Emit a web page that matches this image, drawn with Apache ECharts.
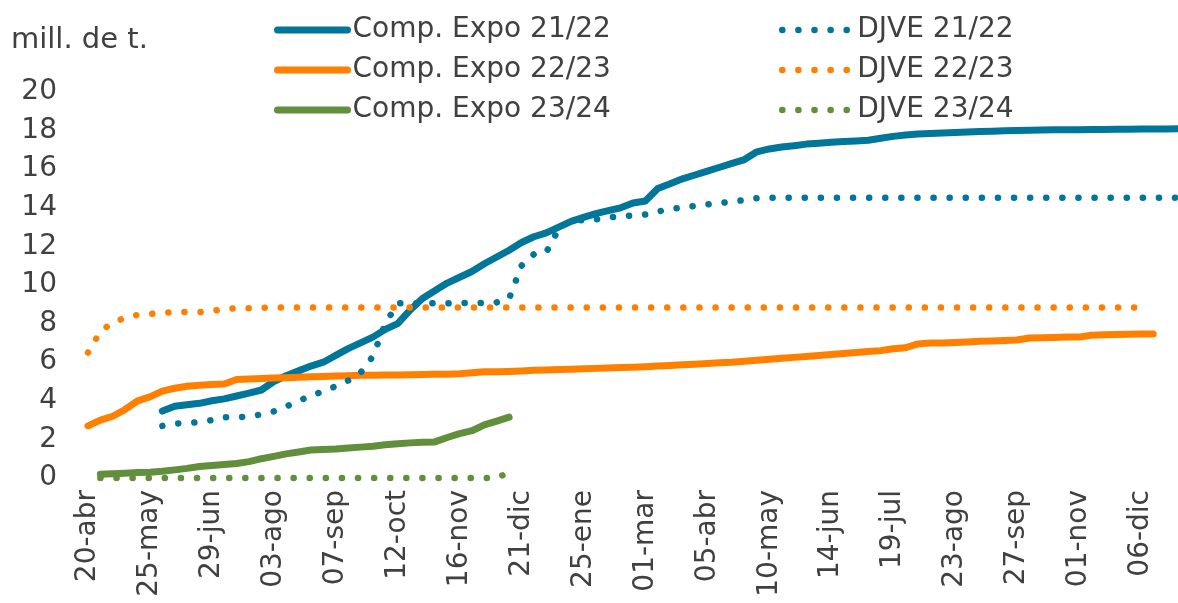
<!DOCTYPE html>
<html>
<head>
<meta charset="utf-8">
<script src="https://cdn.jsdelivr.net/npm/echarts@6/dist/echarts.min.js"></script>
<style>
  html, body { margin: 0; padding: 0; background: #fff; }
  #chart { width: 1178px; height: 603px; }
</style>
</head>
<body>
<div id="chart"></div>
<script>
// semanas (categorías del eje x)
const weeks = [
  '20-abr', '27-abr', '04-may', '11-may', '18-may', '25-may', '01-jun', '08-jun', '15-jun', '22-jun',
  '29-jun', '06-jul', '13-jul', '20-jul', '27-jul', '03-ago', '10-ago', '17-ago', '24-ago', '31-ago',
  '07-sep', '14-sep', '21-sep', '28-sep', '05-oct', '12-oct', '19-oct', '26-oct', '02-nov', '09-nov',
  '16-nov', '23-nov', '30-nov', '07-dic', '14-dic', '21-dic', '28-dic', '04-ene', '11-ene', '18-ene',
  '25-ene', '01-feb', '08-feb', '15-feb', '22-feb', '01-mar', '08-mar', '15-mar', '22-mar', '29-mar',
  '05-abr', '12-abr', '19-abr', '26-abr', '03-may', '10-may', '17-may', '24-may', '31-may', '07-jun',
  '14-jun', '21-jun', '28-jun', '05-jul', '12-jul', '19-jul', '26-jul', '02-ago', '09-ago', '16-ago',
  '23-ago', '30-ago', '06-sep', '13-sep', '20-sep', '27-sep', '04-oct', '11-oct', '18-oct', '25-oct',
  '01-nov', '08-nov', '15-nov', '22-nov', '29-nov', '06-dic', '13-dic', '20-dic', '27-dic'
]

// Compromisos de exportación 21/22
const expo2122 = [
  null, null, null, null, null, null, 3.47, 3.72, 3.8, 3.87,
  4.0, 4.1, 4.25, 4.4, 4.56, 5.0, 5.3, 5.55, 5.8, 6.0,
  6.35, 6.7, 7.0, 7.3, 7.7, 8.0, 8.7, 9.3, 9.7, 10.1,
  10.4, 10.7, 11.1, 11.45, 11.8, 12.2, 12.5, 12.7, 13.0, 13.3,
  13.5, 13.7, 13.85, 14.0, 14.25, 14.35, 15.0, 15.25, 15.5, 15.7,
  15.9, 16.1, 16.3, 16.5, 16.9, 17.05, 17.15, 17.22, 17.3, 17.35,
  17.4, 17.43, 17.46, 17.5, 17.6, 17.7, 17.77, 17.82, 17.85, 17.87,
  17.9, 17.93, 17.95, 17.97, 17.99, 18.0, 18.02, 18.03, 18.04, 18.05,
  18.05, 18.06, 18.06, 18.07, 18.07, 18.08, 18.08, 18.08, 18.09
]

// Compromisos de exportación 22/23
const expo2223 = [
  2.7, 3.0, 3.2, 3.55, 4.0, 4.2, 4.5, 4.65, 4.75, 4.8,
  4.85, 4.87, 5.1, 5.13, 5.15, 5.18, 5.2, 5.22, 5.24, 5.26,
  5.28, 5.3, 5.32, 5.33, 5.34, 5.34, 5.35, 5.36, 5.37, 5.38,
  5.4, 5.45, 5.5, 5.5, 5.52, 5.55, 5.58, 5.6, 5.62, 5.64,
  5.66, 5.68, 5.7, 5.72, 5.74, 5.77, 5.8, 5.83, 5.87, 5.9,
  5.93, 5.97, 6.0, 6.05, 6.1, 6.15, 6.2, 6.25, 6.3, 6.35,
  6.4, 6.45, 6.5, 6.55, 6.6, 6.7, 6.75, 6.95, 7.0, 7.0,
  7.02, 7.05, 7.08, 7.1, 7.12, 7.15, 7.25, 7.27, 7.28, 7.3,
  7.3, 7.4, 7.42, 7.44, 7.45, 7.46, 7.46, null, null
]

// Compromisos de exportación 23/24
const expo2324 = [
  null, 0.2, 0.22, 0.25, 0.28, 0.3, 0.35, 0.42, 0.5, 0.6,
  0.65, 0.7, 0.75, 0.85, 1.0, 1.12, 1.25, 1.35, 1.45, 1.48,
  1.5, 1.55, 1.6, 1.65, 1.72, 1.78, 1.82, 1.85, 1.87, 2.1,
  2.3, 2.45, 2.75, 2.95, 3.15
]

// DJVE 21/22
const djve2122 = [
  null, null, null, null, null, null, 2.7, 2.82, 2.85, 2.9,
  3.0, 3.15, 3.15, 3.18, 3.3, 3.45, 3.7, 4.0, 4.25, 4.5,
  4.75, 5.05, 5.45, 6.3, 8.0, 9.05, 9.05, 9.05, 9.05, 9.05,
  9.07, 9.07, 9.07, 9.1, 9.3, 11.0, 11.6, 11.7, 12.9, 13.35,
  13.35, 13.4, 13.5, 13.55, 13.6, 13.65, 13.8, 13.95, 14.0, 14.1,
  14.18, 14.25, 14.32, 14.4, 14.5, 14.52, 14.52, 14.52, 14.52, 14.52,
  14.52, 14.52, 14.52, 14.52, 14.52, 14.52, 14.52, 14.52, 14.52, 14.52,
  14.52, 14.52, 14.52, 14.52, 14.52, 14.52, 14.52, 14.52, 14.52, 14.52,
  14.52, 14.52, 14.52, 14.52, 14.52, 14.52, 14.52, 14.52, 14.52
]

// DJVE 22/23
const djve2223 = [
  6.5, 7.6, 8.05, 8.3, 8.45, 8.5, 8.55, 8.6, 8.6, 8.6,
  8.65, 8.75, 8.8, 8.8, 8.82, 8.84, 8.84, 8.84, 8.84, 8.84,
  8.84, 8.84, 8.84, 8.84, 8.84, 8.84, 8.84, 8.84, 8.84, 8.84,
  8.84, 8.84, 8.84, 8.84, 8.84, 8.84, 8.84, 8.84, 8.84, 8.84,
  8.84, 8.84, 8.84, 8.84, 8.84, 8.84, 8.84, 8.84, 8.84, 8.84,
  8.84, 8.84, 8.84, 8.84, 8.84, 8.84, 8.84, 8.84, 8.84, 8.84,
  8.84, 8.84, 8.84, 8.84, 8.84, 8.84, 8.84, 8.84, 8.84, 8.84,
  8.84, 8.84, 8.84, 8.84, 8.84, 8.84, 8.84, 8.84, 8.84, 8.84,
  8.84, 8.84, 8.84, 8.84, 8.84, 8.84
]

// DJVE 23/24
const djve2324 = [
  null, 0, 0, 0, 0, 0, 0, 0, 0, 0,
  0, 0, 0, 0, 0, 0, 0, 0, 0, 0,
  0, 0, 0, 0, 0, 0, 0, 0, 0, 0,
  0, 0, 0, 0, 0.3
]

const BLUE = '#00769a'
const ORANGE = '#ff8000'
const GREEN = '#628f3b'
const TEXT = '#404040'
const FONT = 'DejaVu Sans'
const DOTS = [0.1, 16]

function solid(name, data, color) {
  return {
    name, type: 'line', data, symbol: 'none', color, clip: false, z: 10,
    lineStyle: { width: 7, color, cap: 'round', join: 'round' }
  }
}

function dotted(name, data, color) {
  return {
    name, type: 'line', data, symbol: 'none', color, clip: false, z: 11,
    lineStyle: { width: 6.5, color, type: DOTS, cap: 'round' }
  }
}

const legendBase = {
  orient: 'vertical', top: 16, padding: 0,
  itemWidth: 70, itemHeight: 14, itemGap: 12,
  itemStyle: { opacity: 0 },
  textStyle: { fontFamily: FONT, fontSize: 28, color: TEXT }
}

const chart = echarts.init(document.getElementById('chart'))
chart.setOption({
  animation: false,
  title: {
    text: 'mill. de t.',
    left: 6, top: 21,
    textStyle: { fontFamily: FONT, fontSize: 29, fontWeight: 'normal', color: TEXT }
  },
  legend: [
    Object.assign({}, legendBase, {
      data: ['Comp. Expo 21/22', 'Comp. Expo 22/23', 'Comp. Expo 23/24'],
      left: 274,
      lineStyle: { width: 7, cap: 'round' }
    }),
    Object.assign({}, legendBase, {
      data: ['DJVE 21/22', 'DJVE 22/23', 'DJVE 23/24'],
      left: 779,
      lineStyle: { width: 6.5, type: DOTS, cap: 'round' }
    })
  ],
  grid: { left: 88, right: 0, top: 92, bottom: 125, containLabel: false, outerBoundsMode: 'none' },
  xAxis: {
    type: 'category',
    data: weeks,
    boundaryGap: false,
    axisLine: { show: false },
    axisTick: { show: false },
    axisLabel: {
      interval: 4, rotate: 90, margin: 12,
      fontFamily: FONT, fontSize: 28, color: TEXT
    }
  },
  yAxis: {
    type: 'value',
    min: 0, max: 20, interval: 2,
    axisLine: { show: false },
    axisTick: { show: false },
    splitLine: { show: false },
    axisLabel: { margin: 31, fontFamily: FONT, fontSize: 28, color: TEXT }
  },
  series: [
    solid('Comp. Expo 21/22', expo2122, BLUE),
    solid('Comp. Expo 22/23', expo2223, ORANGE),
    solid('Comp. Expo 23/24', expo2324, GREEN),
    dotted('DJVE 21/22', djve2122, BLUE),
    dotted('DJVE 22/23', djve2223, ORANGE),
    dotted('DJVE 23/24', djve2324, GREEN)
  ]
})
</script>
</body>
</html>
